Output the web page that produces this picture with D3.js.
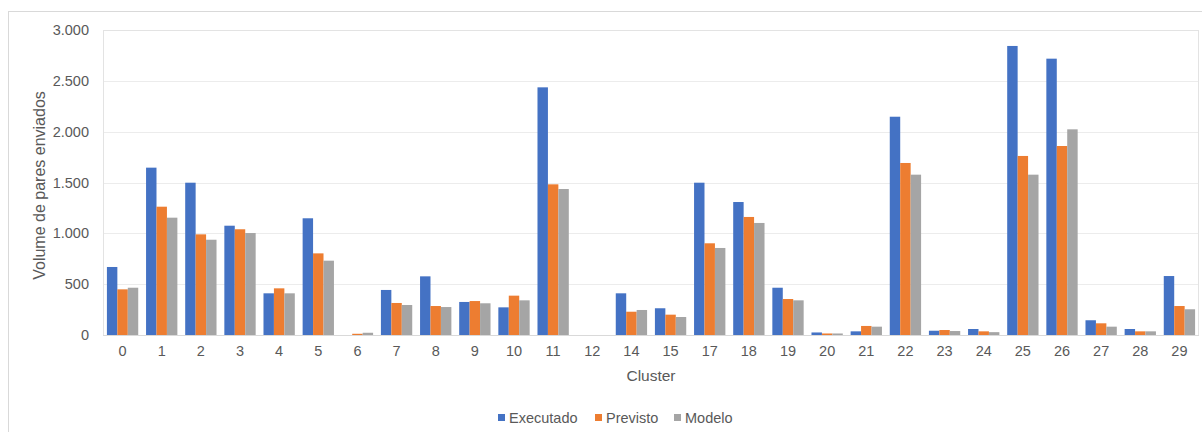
<!DOCTYPE html>
<html>
<head>
<meta charset="utf-8">
<script src="https://cdn.jsdelivr.net/npm/d3@7"></script>
<style>
  html, body { margin: 0; padding: 0; background: #fff; }
  svg { display: block; font-family: "Liberation Sans", Arial, sans-serif; }
</style>
</head>
<body>
<svg id="chart" width="1202" height="432"></svg>
<script>
// Clusters shown on the x axis (13 and 16 are absent)
const clusters = ["0","1","2","3","4","5","6","7","8","9","10","11","12","14","15","17","18","19","20","21","22","23","24","25","26","27","28","29"];

// Volume per cluster for each series
const executado = [669,1646,1498,1075,410,1148,0,443,577,325,272,2436,0,410,263,1498,1308,465,25,36,2147,42,59,2843,2718,145,59,580];
const previsto  = [449,1262,990,1040,459,803,12,315,285,334,387,1482,0,229,200,902,1161,354,15,89,1692,49,36,1761,1859,115,36,285];
const modelo    = [465,1154,937,1003,410,731,22,295,275,312,341,1436,0,246,177,856,1102,341,15,82,1577,39,28,1577,2023,82,36,253];

const seriesNames = ["Executado","Previsto","Modelo"];
const yTicks = [0,500,1000,1500,2000,2500,3000];

const seriesData = [executado, previsto, modelo];
const colors = ["#4472C4","#ED7D31","#A5A5A5"];
const fmt = v => d3.format(",")(v).replace(/,/g, ".");
const textColor = "#595959";
const fontFamily = "'Liberation Sans', Arial, sans-serif";

const svg = d3.select("#chart");

// Outer chart frame
svg.append("rect")
  .attr("x", 8.5).attr("y", 11.5)
  .attr("width", 1202).attr("height", 440)
  .attr("fill", "none").attr("stroke", "#d9d9d9");

const plot = { left: 103, right: 1199, top: 30, bottom: 335 };

const x = d3.scaleBand().domain(clusters).range([plot.left, plot.right]).padding(0);
const xs = d3.scaleBand().domain(seriesNames).range([0, x.bandwidth()])
  .paddingInner(0).paddingOuter(0.375);
const y = d3.scaleLinear().domain([0, 3000]).range([plot.bottom, plot.top]);

// Gridlines
svg.append("g").selectAll("line").data(yTicks.filter(t => t > 0)).join("line")
  .attr("x1", plot.left).attr("x2", plot.right)
  .attr("y1", d => Math.round(y(d)) + 0.5).attr("y2", d => Math.round(y(d)) + 0.5)
  .attr("stroke", "#ececec").attr("stroke-width", 1);

// Plot-area frame
svg.append("rect")
  .attr("x", plot.left + 0.5).attr("y", plot.top + 0.5)
  .attr("width", plot.right - plot.left - 1).attr("height", plot.bottom - plot.top)
  .attr("fill", "none").attr("stroke", "#e3e3e3");

// Bars
const groups = svg.append("g").selectAll("g").data(seriesNames).join("g")
  .attr("fill", (d, i) => colors[i]);
groups.selectAll("rect")
  .data((s, i) => clusters.map((c, j) => ({ c, s, v: seriesData[i][j] })))
  .join("rect")
  .attr("x", d => x(d.c) + xs(d.s))
  .attr("width", xs.bandwidth())
  .attr("y", d => y(d.v))
  .attr("height", d => y(0) - y(d.v));

// Category axis line
svg.append("line")
  .attr("x1", plot.left).attr("x2", plot.right)
  .attr("y1", plot.bottom + 0.5).attr("y2", plot.bottom + 0.5)
  .attr("stroke", "#d9d9d9");

// Y axis
const yAxis = d3.axisLeft(y).tickValues(yTicks).tickFormat(fmt).tickSize(0).tickPadding(14);
const gy = svg.append("g").attr("transform", `translate(${plot.left},0)`).call(yAxis);
gy.select(".domain").remove();
gy.selectAll("text").attr("font-size", 14.5).attr("fill", textColor)
  .attr("font-family", fontFamily);

// X axis
const xAxis = d3.axisBottom(x).tickSize(0).tickPadding(11);
const gx = svg.append("g").attr("transform", `translate(0,${plot.bottom})`).call(xAxis);
gx.select(".domain").remove();
gx.selectAll("text").attr("font-size", 14.5).attr("fill", textColor)
  .attr("font-family", fontFamily);

// Axis titles
svg.append("text")
  .attr("transform", `translate(45,${(plot.top + plot.bottom) / 2 + 3}) rotate(-90)`)
  .attr("text-anchor", "middle").attr("font-size", 16).attr("fill", textColor)
  .text("Volume de pares enviados");

svg.append("text")
  .attr("x", (plot.left + plot.right) / 2).attr("y", 381)
  .attr("text-anchor", "middle").attr("font-size", 15.5).attr("fill", textColor)
  .text("Cluster");

// Legend
const legendX = [498, 595, 674];
const legend = svg.append("g").selectAll("g").data(seriesNames).join("g")
  .attr("transform", (d, i) => `translate(${legendX[i]},418)`);
legend.append("rect").attr("x", 0).attr("y", -4).attr("width", 7).attr("height", 7)
  .attr("fill", (d, i) => colors[i]);
legend.append("text").attr("x", 11).attr("y", 5)
  .attr("font-size", 14.5).attr("fill", textColor).text(d => d);
</script>
</body>
</html>
